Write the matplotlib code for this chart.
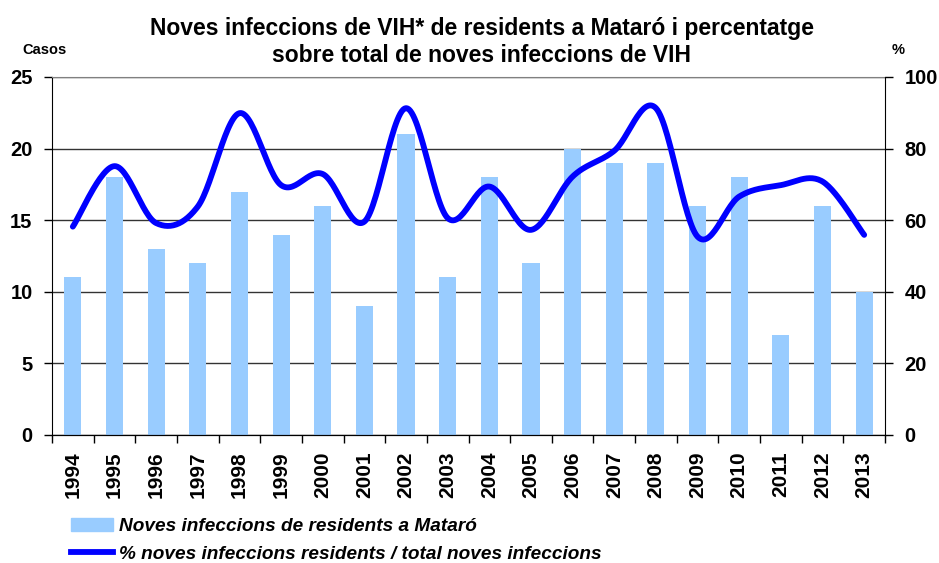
import numpy as np
import matplotlib.pyplot as plt
from matplotlib.lines import Line2D
from matplotlib.patches import Patch

plt.rcParams['font.family'] = ['Liberation Sans', 'DejaVu Sans']

# dades
anys = ['1994', '1995', '1996', '1997', '1998', '1999', '2000', '2001', '2002', '2003',
        '2004', '2005', '2006', '2007', '2008', '2009', '2010', '2011', '2012', '2013']
casos = [11, 18, 13, 12, 17, 14, 16, 9, 21, 11, 18, 12, 20, 19, 19, 16, 18, 7, 16, 10]
percent = [58.2, 75.1, 59.2, 63.8, 89.9, 69.8, 72.9, 59.6, 91.3, 60.6,
           69.4, 57.3, 72.2, 79.4, 91.3, 55.4, 66.6, 69.8, 70.8, 55.9]

titol = "Noves infeccions de VIH* de residents a Mataró i percentatge\nsobre total de noves infeccions de VIH"
leg_barres = "Noves infeccions de residents a Mataró"
leg_linia = "% noves infeccions residents / total noves infeccions"


def suavitzar(x, y, n=30):
    # corba suau tipus Excel (Bezier amb punts de control Catmull-Rom)
    x = np.asarray(x, float)
    y = np.asarray(y, float)
    px = np.concatenate([[x[0]], x, [x[-1]]])
    py = np.concatenate([[y[0]], y, [y[-1]]])
    xs, ys = [], []
    t = np.linspace(0, 1, n)
    for i in range(1, len(px) - 2):
        p0 = np.array([px[i], py[i]])
        p3 = np.array([px[i + 1], py[i + 1]])
        p1 = p0 + (np.array([px[i + 1], py[i + 1]]) - np.array([px[i - 1], py[i - 1]])) / 6
        p2 = p3 - (np.array([px[i + 2], py[i + 2]]) - np.array([px[i], py[i]])) / 6
        b = ((1 - t) ** 3)[:, None] * p0 + (3 * (1 - t) ** 2 * t)[:, None] * p1 \
            + (3 * (1 - t) * t ** 2)[:, None] * p2 + (t ** 3)[:, None] * p3
        xs.extend(b[:, 0])
        ys.extend(b[:, 1])
    return np.array(xs), np.array(ys)


fig = plt.figure(figsize=(9.39, 5.63), dpi=100)
ax = fig.add_axes([52 / 939, 128 / 563, 833 / 939, 358 / 563])
x = np.arange(len(anys))

ax.bar(x, casos, width=0.41, color='#99CCFF', zorder=2)
ax.set_xlim(-0.5, len(anys) - 0.5)
ax.set_ylim(0, 25)
ax.set_yticks([0, 5, 10, 15, 20, 25])
ax.yaxis.grid(True, color='#333333', linewidth=1, zorder=1)
ax.set_axisbelow(True)
ax.set_xticks(x)
ax.set_xticklabels(anys, rotation=90, fontsize=15, fontweight='bold')
ax.set_xticks(np.arange(-0.5, len(anys)), minor=True)
ax.tick_params(axis='x', which='major', length=0, pad=12)
ax.tick_params(axis='x', which='minor', length=6, direction='out', width=1)
ax.tick_params(axis='y', length=6, width=1, labelsize=14.5, pad=8)
for lab in ax.get_yticklabels():
    lab.set_fontweight('bold')
ax.spines['top'].set_color('#808080')
ax.spines['right'].set_visible(False)

ax2 = ax.twinx()
ax2.set_ylim(0, 100)
ax2.set_yticks([0, 20, 40, 60, 80, 100])
ax2.tick_params(axis='y', length=6, width=1, labelsize=14.5, pad=8)
for lab in ax2.get_yticklabels():
    lab.set_fontweight('bold')
ax2.spines['top'].set_visible(False)
ax2.spines['left'].set_visible(False)
sx, sy = suavitzar(x, percent)
ax2.plot(sx, sy, color='#0000FF', linewidth=4.2, solid_capstyle='round', zorder=3)

fig.text(482 / 939, 1 - 42 / 563, titol, ha='center', va='center', fontsize=16.5,
         fontweight='bold', linespacing=1.2)
fig.text(22 / 939, 1 - 50 / 563, 'Casos', ha='left', va='center', fontsize=10.5, fontweight='bold')
fig.text(892 / 939, 1 - 50 / 563, '%', ha='left', va='center', fontsize=10.5, fontweight='bold')

handles = [Patch(color='#99CCFF'), Line2D([0], [0], color='#0000FF', linewidth=4.2)]
fig.legend(handles, [leg_barres, leg_linia], loc='upper left',
           bbox_to_anchor=(63 / 939, 1 - 510 / 563), frameon=False,
           prop={'size': 13.7, 'weight': 'bold', 'style': 'italic'},
           handlelength=2.25, handletextpad=0.3, labelspacing=0.55, borderaxespad=0)

fig.savefig('out.png', dpi=100)
